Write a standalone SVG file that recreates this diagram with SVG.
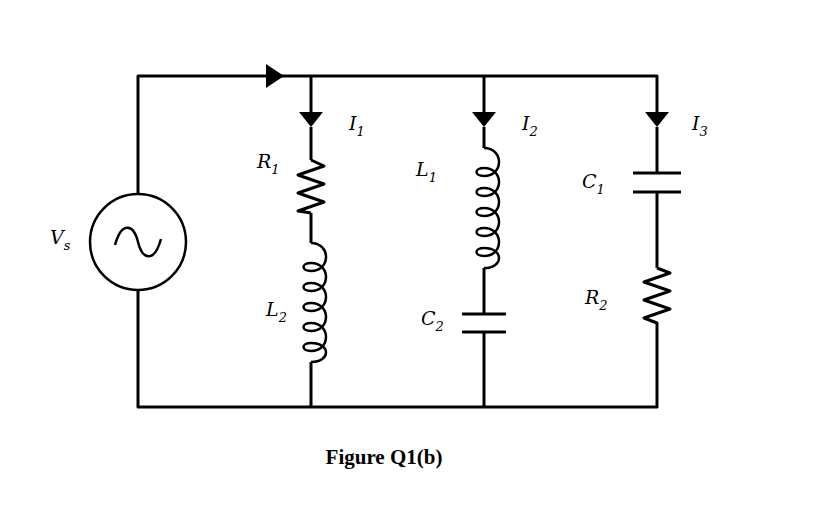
<svg xmlns="http://www.w3.org/2000/svg" width="816" height="523" viewBox="0 0 816 523">
<style>
.w{fill:none;stroke:#000;stroke-width:3;stroke-linejoin:round}
.c{fill:none;stroke:#000;stroke-width:2.5}
.lbl{font-family:"DejaVu Serif","Liberation Serif",serif;font-style:italic;font-size:19px}
.sub{font-size:13px}
</style>
<rect width="816" height="523" fill="#fff"/>
<g id="connectors">
<path class="w" d="M138,194 V76 H657 V112 M311,76 V112 M484,76 V112 M138,290 V407 H657 V361 M311,362 V407 M484,332 V407"/>
<path class="w" d="M311,127 V160 M311,213 V243 M484,127 V148 M484,268 V314 M657,127 V173 M657,192 V268 M657,325 V361"/>
<polygon points="266,64 284,76 266,88" fill="#000"/>
</g>
<g id="arrows">
<polygon points="299,112 323,112 311,127" fill="#000"/>
<polygon points="472,112 496,112 484,127" fill="#000"/>
<polygon points="645,112 669,112 657,127" fill="#000"/>
</g>
<g id="Vs">
<circle cx="138" cy="242" r="48" fill="none" stroke="#000" stroke-width="2.5"/>
<path class="c" d="M115,245 C122,220 134,225 138,242 C142,259 154,264 161,239"/>
<text class="lbl" x="50" y="244">V<tspan class="sub" dy="6">s</tspan></text>
</g>
<g id="R1">
<path class="w" d="M311,160 L324,166 L298,175 L324,184 L298,193 L324,202 L298,211 L311,213"/>
<text class="lbl" x="257" y="168">R<tspan class="sub" dy="6">1</tspan></text>
</g>
<g id="L2">
<path class="c" d="M311,243 c20,0 20,28 0,28 c-10,0 -10,-8 0,-8 c20,0 20,28 0,28 c-10,0 -10,-8 0,-8 c20,0 20,28 0,28 c-10,0 -10,-8 0,-8 c20,0 20,28 0,28 c-10,0 -10,-8 0,-8 c20,0 20,28 0,28 c-10,0 -10,-8 0,-8 c20,0 20,19 0,19"/>
<text class="lbl" x="266" y="316">L<tspan class="sub" dy="6">2</tspan></text>
<text class="lbl" x="349" y="130">I<tspan class="sub" dy="6">1</tspan></text>
</g>
<g id="L1">
<path class="c" d="M484,148 c20,0 20,28 0,28 c-10,0 -10,-8 0,-8 c20,0 20,28 0,28 c-10,0 -10,-8 0,-8 c20,0 20,28 0,28 c-10,0 -10,-8 0,-8 c20,0 20,28 0,28 c-10,0 -10,-8 0,-8 c20,0 20,28 0,28 c-10,0 -10,-8 0,-8 c20,0 20,20 0,20"/>
<text class="lbl" x="416" y="176">L<tspan class="sub" dy="6">1</tspan></text>
<text class="lbl" x="522" y="130">I<tspan class="sub" dy="6">2</tspan></text>
</g>
<g id="C2">
<path class="w" d="M462,314 H506 M462,332 H506"/>
<text class="lbl" x="421" y="325">C<tspan class="sub" dy="6">2</tspan></text>
</g>
<g id="C1">
<path class="w" d="M633,173 H681 M633,192 H681"/>
<text class="lbl" x="582" y="188">C<tspan class="sub" dy="6">1</tspan></text>
<text class="lbl" x="692" y="130">I<tspan class="sub" dy="6">3</tspan></text>
</g>
<g id="R2">
<path class="w" d="M657,268 L670,273 L644,282 L670,291 L644,300 L670,309 L644,318 L657,323 V325"/>
<text class="lbl" x="585" y="304">R<tspan class="sub" dy="6">2</tspan></text>
</g>
<text x="384" y="464" text-anchor="middle" font-family="Liberation Serif,serif" font-weight="bold" font-size="21">Figure Q1(b)</text>
</svg>
